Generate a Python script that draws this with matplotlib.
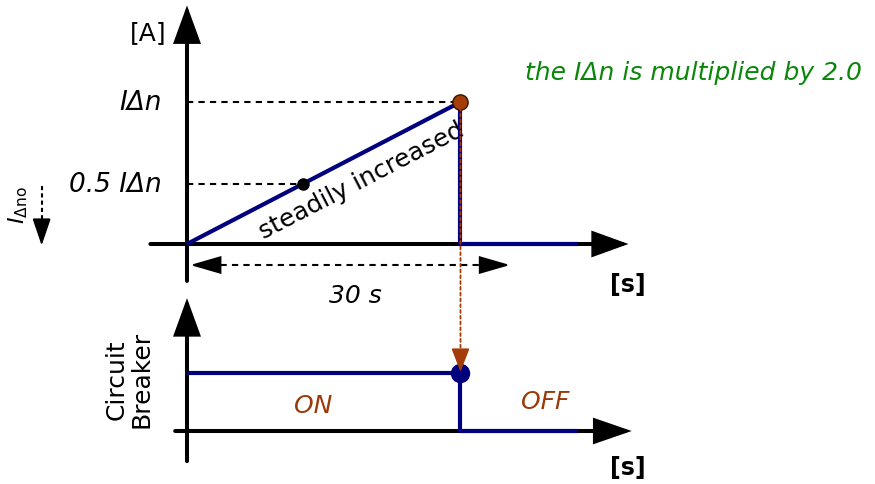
## Residual current test: ramp to trip, breaker state ##

import matplotlib
matplotlib.use("Agg")
import matplotlib.pyplot as plt
from matplotlib.patches import ConnectionPatch

plt.rcParams['font.family'] = ['DejaVu Sans']
plt.rcParams['mathtext.fontset'] = 'dejavusans'

# values
t_ramp = [0.0, 25.4]        # s, current rises from 0 ...
i_ramp = [0.0, 1.0]         # ... up to I_delta_n (trip)
t_mid, i_mid = 10.8, 0.42   # marked point on the ramp ("0.5 IΔn")
t_trip = 25.4               # s, breaker trips
t_end = 36.3                # s, end of traces
t_window = 30.0             # s, test window
y_ticks = [1.0, i_mid]
y_labels = ['IΔn', '0.5 IΔn']

t_state = [0.0, t_trip, t_trip, t_end]
state = [1.0, 1.0, 0.0, 0.0]     # ON -> OFF

navy = '#00007f'
brown = '#a33c08'
green = '#0a870a'

fig = plt.figure(figsize=(8.75, 4.85), dpi=100)
px = 10.767                          # pixels per second
xlim = (-187 / px, (875 - 187) / px)

ax = fig.add_axes([0, 195 / 485, 1, 290 / 485])
ax.set_xlim(*xlim)
ax.set_ylim(-45 / 142, 245 / 142)
ax.axis('off')

bx = fig.add_axes([0, 0, 1, 195 / 485])
bx.set_xlim(*xlim)
bx.set_ylim(-53 / 58, 142 / 58)
bx.axis('off')


def arrow(a, start, tip, hl, hw, lw=2.9, color='k', z=3):
    a.annotate('', xy=tip, xytext=start,
               arrowprops=dict(arrowstyle=f'-|>,head_length={hl},head_width={hw}',
                               mutation_scale=1, lw=lw, color=color,
                               shrinkA=0, shrinkB=0, joinstyle='miter'), zorder=z)


# top: current axes
arrow(ax, (0, -0.26), (0, 1.68), 22, 8)
arrow(ax, (-3.4, 0), (41.0, 0), 21, 7.6)
ax.text(-3.6, 1.49, '[A]', fontsize=18, ha='center', va='center')
ax.text(40.9, -0.28, '[s]', fontsize=17, weight='bold', ha='center', va='center')

for y, lab in zip(y_ticks, y_labels):
    ax.text(-2.3, y, lab, fontsize=19, style='italic', ha='right', va='center')
ax.plot([0, t_ramp[1]], [1.0, 1.0], color='k', lw=1.5, ls=(0, (3, 2.5)), zorder=2)
ax.plot([0, t_mid], [i_mid, i_mid], color='k', lw=1.5, ls=(0, (3, 2.5)), zorder=2)

ax.plot(t_ramp, i_ramp, color=navy, lw=3, solid_capstyle='butt', zorder=4)
ax.plot([t_trip, t_trip, t_end], [1.0, 0.0, 0.0], color=navy, lw=3,
        solid_capstyle='butt', zorder=4)
ax.plot(t_mid, i_mid, 'o', color='k', ms=8, zorder=6)
ax.plot(t_trip, 1.0, 'o', color=brown, mec='#3a1000', mew=1, ms=11, zorder=6)

ax.text(16.2, 0.45, 'steadily increased', fontsize=18, rotation=27.4,
        rotation_mode='anchor', ha='center', va='center')

# 30 s window
ax.plot([2.0, t_window - 2.0], [-0.148, -0.148], color='k', lw=1.5,
        ls=(0, (3, 2.5)))
arrow(ax, (2.5, -0.148), (0.3, -0.148), 19, 5.5, lw=1.5)
arrow(ax, (t_window - 2.5, -0.148), (t_window, -0.148), 19, 5.5, lw=1.5)
ax.text(15.6, -0.36, '30 s', fontsize=18, style='italic', ha='center', va='center')

ax.text(-15.7, 0.28, r'$I_{\Delta\mathrm{no}}$', fontsize=16, rotation=90,
        ha='center', va='center')
ax.plot([-13.5, -13.5], [0.41, 0.12], color='k', lw=1.5, ls=(0, (2, 1.5)))
arrow(ax, (-13.5, 0.14), (-13.5, -0.01), 17, 5.8, lw=1.2)

ax.text(62.7, 1.21, 'the IΔn is multiplied by 2.0', fontsize=18, style='italic',
        color=green, ha='right', va='center')

# bottom: circuit breaker state
arrow(bx, (0, -0.52), (0, 2.29), 22, 8)
arrow(bx, (-1.1, 0), (41.3, 0), 22, 7.6)
bx.text(-5.4, 0.9, 'Circuit\nBreaker', fontsize=18, rotation=90,
        ha='center', va='center', linespacing=1.05)
bx.text(40.9, -0.62, '[s]', fontsize=17, weight='bold', ha='center', va='center')

bx.plot(t_state, state, color=navy, lw=3, solid_capstyle='butt', zorder=4)
bx.plot(t_trip, 1.0, 'o', color=navy, ms=13, zorder=6)
bx.text(11.7, 0.45, 'ON', fontsize=18, style='italic', color='#9a3a08',
        ha='center', va='center')
bx.text(33.3, 0.51, 'OFF', fontsize=18, style='italic', color='#9a3a08',
        ha='center', va='center')

# trip link from the top chart down to the breaker
link = ConnectionPatch(xyA=(t_trip, 1.0), coordsA=ax.transData,
                       xyB=(t_trip, 1.35), coordsB=bx.transData,
                       arrowstyle='-', color=brown, lw=1.3,
                       ls=(0, (1.6, 1.6)), shrinkA=0, shrinkB=0, zorder=7)
fig.add_artist(link)
arrow(bx, (t_trip, 1.4), (t_trip, 1.02), 15, 5.8, lw=1.0, color=brown, z=7)

fig.savefig('out.png', dpi=100)
